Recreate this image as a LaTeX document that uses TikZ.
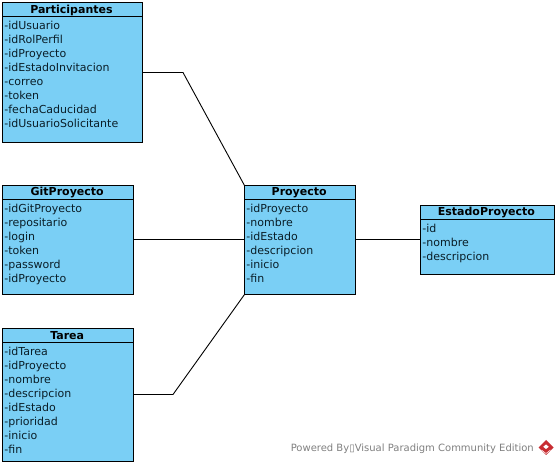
\documentclass[tikz,border=0pt]{standalone}
\usepackage{fontspec}
\setmainfont{DejaVu Sans}
\definecolor{boxfill}{RGB}{122,207,245}
\definecolor{boxtext}{RGB}{10,30,40}
\definecolor{footgrey}{RGB}{128,128,128}
\definecolor{logored}{RGB}{200,45,50}
\tikzset{
  x=1pt,y=-1pt,
  classbox/.style={draw=black,line width=1pt,fill=boxfill,rectangle,inner sep=0pt,outer sep=0pt,anchor=north west},
  classtitle/.style={font=\fontsize{11}{14}\selectfont\bfseries,text=black,inner sep=0pt,anchor=center},
  attrs/.style={font=\fontsize{11}{14}\selectfont,text=boxtext,inner sep=0pt,anchor=north west,align=left},
  link/.style={draw=black,line width=0.9pt},
}
\newcommand{\umlclass}[7]{% name, x, y, w, h, title, attributes
  \node[classbox,minimum width=#4pt,minimum height=#5pt] (#1) at (#2,#3) {};
  \draw[black,line width=1pt] (#2,#3+14) -- (#2+#4,#3+14);
  \node[classtitle] (#1t) at (#2+#4/2-0.8,#3+7.5) {#6};
  \node[attrs] (#1a) at (#2+1.7,#3+18.5) {#7};
}
\begin{document}
\begin{tikzpicture}
\useasboundingbox (0,0) rectangle (558,465);
\fill[white] (0,0) rectangle (558,465);
\umlclass{part}{2.5}{2.5}{139.5}{140.5}{Participantes}{-idUsuario\\-idRolPerfil\\-idProyecto\\-idEstadoInvitacion\\-correo\\-token\\-fechaCaducidad\\-idUsuarioSolicitante}
\umlclass{git}{2.5}{185.5}{131}{109}{GitProyecto}{-idGitProyecto\\-repositario\\-login\\-token\\-password\\-idProyecto}
\umlclass{tarea}{2.5}{328.5}{131}{133}{Tarea}{-idTarea\\-idProyecto\\-nombre\\-descripcion\\-idEstado\\-prioridad\\-inicio\\-fin}
\umlclass{proy}{244.5}{185.5}{111}{109}{Proyecto}{-idProyecto\\-nombre\\-idEstado\\-descripcion\\-inicio\\-fin}
\umlclass{estado}{420.5}{205.5}{133.5}{69}{EstadoProyecto}{-id\\-nombre\\-descripcion}
\coordinate (b1) at (183,72.5);
\coordinate (b2) at (173,394.5);
\draw[link] ([xshift=1pt,yshift=.25pt]part.east) -- (b1) -- (proy.north west);
\draw[link] ([yshift=.5pt]git.east) -- ([yshift=.5pt]proy.west);
\draw[link] ([yshift=.5pt]tarea.east) -- (b2) -- (proy.south west);
\draw[link] ([yshift=.5pt]proy.east) -- ([yshift=.5pt]estado.west);
\node[font=\fontsize{10}{12}\selectfont,text=footgrey,inner sep=0pt,anchor=east] (foot) at (534,448.5) {Powered By▯Visual Paradigm Community Edition};
\fill[logored] (546,440) -- (553.5,447.5) -- (546,455) -- (538.5,447.5) -- cycle;
\fill[white] (546,444.5) -- (548.8,446.8) -- (546,449) -- (543.2,446.8) -- cycle;
\draw[white,line width=0.5pt] (541.5,450) -- (546,453.5) -- (550.5,450);
\end{tikzpicture}
\end{document}
